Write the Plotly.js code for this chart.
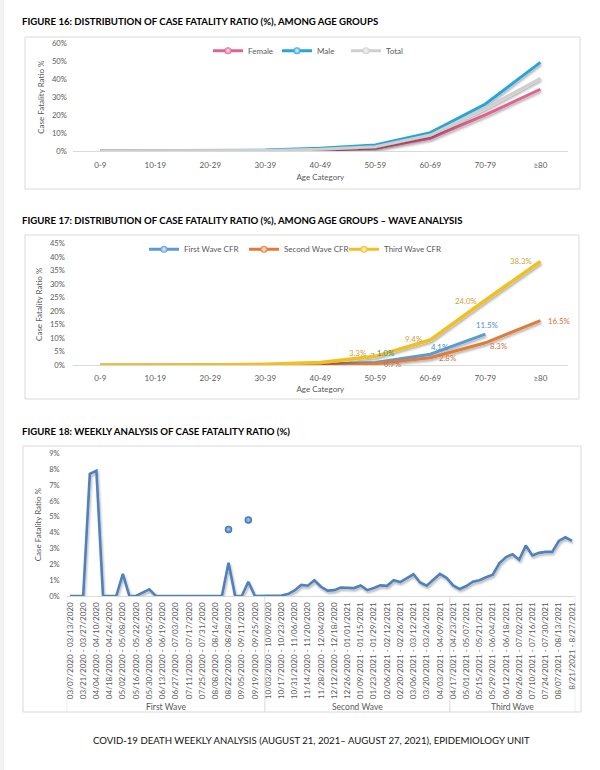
<!DOCTYPE html>
<html><head><meta charset="utf-8">
<script src="https://cdn.plot.ly/plotly-3.0.1.min.js"></script>
<style>
html,body{margin:0;padding:0;background:#fff;}
#chart{width:600px;height:770px;}
.scatterlayer .js-line{filter:url(#sh);}
</style></head><body>
<svg width="0" height="0" style="position:absolute"><defs>
<filter id="sh" filterUnits="userSpaceOnUse" x="-1000" y="-1000" width="5000" height="5000">
<feGaussianBlur in="SourceAlpha" stdDeviation="1.2"/>
<feOffset dx="1" dy="2"/>
<feComponentTransfer><feFuncA type="linear" slope="0.3"/></feComponentTransfer>
<feMerge><feMergeNode/><feMergeNode in="SourceGraphic"/></feMerge>
</filter></defs></svg>
<div id="chart"></div>
<script>
// ---------- DATA ----------
var ageGroups = ['0-9','10-19','20-29','30-39','40-49','50-59','60-69','70-79','≥80'];
var femaleCFR = [0.1, 0.05, 0.1, 0.2, 0.5, 1.6, 7.1, 20.1, 34.4];
var maleCFR   = [0.1, 0.1, 0.2, 0.5, 1.5, 3.3, 10.2, 26.2, 49.4];
var totalCFR  = [0.1, 0.1, 0.1, 0.3, 1.0, 2.4, 8.9, 23.8, 40.5];

var firstWaveCFR  = [0, 0, 0, 0.1, 0.3, 1.0, 4.1, 11.5, null];
var secondWaveCFR = [0, 0, 0, 0.1, 0.2, 0.7, 2.8, 8.3, 16.5];
var thirdWaveCFR  = [0, 0, 0.1, 0.4, 1.0, 3.3, 9.4, 24.0, 38.3];

var weekLabels = [
'03/07/2020 - 03/13/2020','03/14/2020 - 03/20/2020','03/21/2020 - 03/27/2020','03/28/2020 - 04/03/2020',
'04/04/2020 - 04/10/2020','04/11/2020 - 04/17/2020','04/18/2020 - 04/24/2020','04/25/2020 - 05/01/2020',
'05/02/2020 - 05/08/2020','05/09/2020 - 05/15/2020','05/16/2020 - 05/22/2020','05/23/2020 - 05/29/2020',
'05/30/2020 - 06/05/2020','06/06/2020 - 06/12/2020','06/13/2020 - 06/19/2020','06/20/2020 - 06/26/2020',
'06/27/2020 - 07/03/2020','07/04/2020 - 07/10/2020','07/11/2020 - 07/17/2020','07/18/2020 - 07/24/2020',
'07/25/2020 - 07/31/2020','08/01/2020 - 08/07/2020','08/08/2020 - 08/14/2020','08/15/2020 - 08/21/2020',
'08/22/2020 - 08/28/2020','08/29/2020 - 09/04/2020','09/05/2020 - 09/11/2020','09/12/2020 - 09/18/2020',
'09/19/2020 - 09/25/2020','09/26/2020 - 10/02/2020','10/03/2020 - 10/09/2020','10/10/2020 - 10/16/2020',
'10/17/2020 - 10/23/2020','10/24/2020 - 10/30/2020','10/31/2020 - 11/06/2020','11/07/2020 - 11/13/2020',
'11/14/2020 - 11/20/2020','11/21/2020 - 11/27/2020','11/28/2020 - 12/04/2020','12/05/2020 - 12/11/2020',
'12/12/2020 - 12/18/2020','12/19/2020 - 12/25/2020','12/26/2020 - 01/01/2021','01/02/2021 - 01/08/2021',
'01/09/2021 - 01/15/2021','01/16/2021 - 01/22/2021','01/23/2021 - 01/29/2021','01/30/2021 - 02/05/2021',
'02/06/2021 - 02/12/2021','02/13/2021 - 02/19/2021','02/20/2021 - 02/26/2021','02/27/2021 - 03/05/2021',
'03/06/2021 - 03/12/2021','03/13/2021 - 03/19/2021','03/20/2021 - 03/26/2021','03/27/2021 - 04/02/2021',
'04/03/2021 - 04/09/2021','04/10/2021 - 04/16/2021','04/17/2021 - 04/23/2021','04/24/2021 - 04/30/2021',
'05/01/2021 - 05/07/2021','05/08/2021 - 05/14/2021','05/15/2021 - 05/21/2021','05/22/2021 - 05/28/2021',
'05/29/2021 - 06/04/2021','06/05/2021 - 06/11/2021','06/12/2021 - 06/18/2021','06/19/2021 - 06/25/2021',
'06/26/2021 - 07/02/2021','07/03/2021 - 07/09/2021','07/10/2021 - 07/16/2021','07/17/2021 - 07/23/2021',
'07/24/2021 - 07/30/2021','07/31/2021 - 08/06/2021','08/07/2021 - 08/13/2021','08/14/2021 - 08/20/2021',
'8/21/2021 - 8/27/2021'];
var weeklyCFR = [
0, 0, 0, 7.7, 7.9, 0, 0, 0, 1.4, 0, 0, 0.2, 0.42, 0, 0, 0, 0, 0, 0, 0,
0, 0, 0, 0, 2.1, 0, 0, 0.9, 0, 0, 0, 0, 0.03, 0.12, 0.35, 0.7, 0.65, 0.99, 0.58, 0.34,
0.37, 0.54, 0.52, 0.5, 0.66, 0.37, 0.5, 0.67, 0.64, 0.99, 0.88, 1.15, 1.37, 0.85, 0.65, 1.03,
1.39, 1.15, 0.67, 0.44, 0.63, 0.9, 1.0, 1.18, 1.35, 2.06, 2.46, 2.63, 2.29, 3.18, 2.56, 2.72,
2.78, 2.78, 3.47, 3.7, 3.47];
var tickWeeks = [
'03/07/2020 - 03/13/2020','03/21/2020 - 03/27/2020','04/04/2020 - 04/10/2020','04/18/2020 - 04/24/2020',
'05/02/2020 - 05/08/2020','05/16/2020 - 05/22/2020','05/30/2020 - 06/05/2020','06/13/2020 - 06/19/2020',
'06/27/2020 - 07/03/2020','07/11/2020 - 07/17/2020','07/25/2020 - 07/31/2020','08/08/2020 - 08/14/2020',
'08/22/2020 - 08/28/2020','09/05/2020 - 09/11/2020','09/19/2020 - 09/25/2020','10/03/2020 - 10/09/2020',
'10/17/2020 - 10/23/2020','10/31/2020 - 11/06/2020','11/14/2020 - 11/20/2020','11/28/2020 - 12/04/2020',
'12/12/2020 - 12/18/2020','12/26/2020 - 01/01/2021','01/09/2021 - 01/15/2021','01/23/2021 - 01/29/2021',
'02/06/2021 - 02/12/2021','02/20/2021 - 02/26/2021','03/06/2021 - 03/12/2021','03/20/2021 - 03/26/2021',
'04/03/2021 - 04/09/2021','04/17/2021 - 04/23/2021','05/01/2021 - 05/07/2021','05/15/2021 - 05/21/2021',
'05/29/2021 - 06/04/2021','06/12/2021 - 06/18/2021','06/26/2021 - 07/02/2021','07/10/2021 - 07/16/2021',
'07/24/2021 - 07/30/2021','08/07/2021 - 08/13/2021','8/21/2021 - 8/27/2021'];
var isolatedWeeks = ['08/22/2020 - 08/28/2020','09/12/2020 - 09/18/2020'];
var isolatedCFR = [4.2, 4.8];
var waveNames = ['First Wave','Second Wave','Third Wave'];
var waveStartWeeks = ['03/07/2020 - 03/13/2020','10/03/2020 - 10/09/2020','04/17/2021 - 04/23/2021'];

var fig16Title = 'FIGURE 16: DISTRIBUTION OF CASE FATALITY RATIO (%), AMONG AGE GROUPS';
var fig17Title = 'FIGURE 17: DISTRIBUTION OF CASE FATALITY RATIO (%), AMONG AGE GROUPS – WAVE ANALYSIS';
var fig18Title = 'FIGURE 18: WEEKLY ANALYSIS OF CASE FATALITY RATIO (%)';
var footerText = 'COVID-19 DEATH WEEKLY ANALYSIS (AUGUST 21, 2021– AUGUST 27, 2021), EPIDEMIOLOGY UNIT';

// ---------- STYLE ----------
var FONT = 'Lato, "Open Sans", sans-serif';
var GREY = '#595959';
var W = 600, H = 770;
function px(x){ return x / W; }
function py(y){ return 1 - y / H; }

var C = {female:'#e2628f', male:'#27a5d9', total:'#cfcfcf',
         first:'#5b9bd5', second:'#e07b39', third:'#f2bf24', weekly:'#4f81bd'};

var traces = [];
function lineTrace(x, y, color, width, xa, ya){
  return {type:'scatter', mode:'lines', x:x, y:y, xaxis:xa, yaxis:ya, showlegend:false,
          line:{color:color, width:width, shape:'linear'}, hoverinfo:'skip', connectgaps:false};
}
function legendTrace(name, color, legend){
  return {type:'scatter', mode:'lines+markers', x:[null], y:[null], name:name, legend:legend,
          line:{color:color, width:3},
          marker:{symbol:'circle', size:7, color:color, line:{color:color, width:0},
                  gradient:{type:'radial', color:'rgba(255,255,255,0.85)'}},
          hoverinfo:'skip'};
}
// Figure 16
traces.push(lineTrace(ageGroups, femaleCFR, C.female, 3, 'x', 'y'));
traces.push(lineTrace(ageGroups, maleCFR, C.male, 3, 'x', 'y'));
traces.push(lineTrace(ageGroups, totalCFR, C.total, 3, 'x', 'y'));
traces.push(legendTrace('Female', C.female, 'legend'));
traces.push(legendTrace('Male', C.male, 'legend'));
traces.push(legendTrace('Total', C.total, 'legend'));
// Figure 17
traces.push(lineTrace(ageGroups, firstWaveCFR, C.first, 3, 'x2', 'y2'));
traces.push(lineTrace(ageGroups, secondWaveCFR, C.second, 3, 'x2', 'y2'));
traces.push(lineTrace(ageGroups, thirdWaveCFR, C.third, 3.5, 'x2', 'y2'));
traces.push(legendTrace('First Wave CFR', C.first, 'legend2'));
traces.push(legendTrace('Second Wave CFR', C.second, 'legend2'));
traces.push(legendTrace('Third Wave CFR', C.third, 'legend2'));
// Figure 18
traces.push(lineTrace(weekLabels, weeklyCFR, C.weekly, 2.6, 'x3', 'y3'));
traces.push({type:'scatter', mode:'markers', x:isolatedWeeks, y:isolatedCFR, xaxis:'x3', yaxis:'y3',
  showlegend:false, hoverinfo:'skip',
  marker:{size:7.5, color:'#2f6db3', line:{width:0}, gradient:{type:'radial', color:'#a9d0f3'}}});

// ---------- ANNOTATIONS ----------
var ann = [];
function txt(text, x, y, opts){
  var a = {text:text, x:px(x), y:py(y), xref:'paper', yref:'paper', showarrow:false,
           xanchor:'left', yanchor:'middle', font:{family:FONT, size:9.6, color:'#000'}};
  for (var k in opts) a[k] = opts[k];
  return a;
}
ann.push(txt('<b>'+fig16Title+'</b>', 20, 21.7, {}));
ann.push(txt('<b>'+fig17Title+'</b>', 20, 220.7, {}));
ann.push(txt('<b>'+fig18Title+'</b>', 20, 431, {}));
ann.push(txt(footerText, 311, 740, {xanchor:'center', font:{family:FONT, size:9.6, color:'#111'}}));

// Figure 17 data labels (offsets in px relative to the point)
var labelSpec = [
  {data:firstWaveCFR,  color:'#4a8fcb', pos:{5:[10,9.3,'#3d8c78'], 6:[9.3,7.5], 7:[1.7,8.8]}},
  {data:secondWaveCFR, color:'#d0733a', pos:{5:[16.7,-0.6], 6:[16.7,-0.6], 7:[13,-3], 8:[18.3,0]}},
  {data:thirdWaveCFR,  color:'#c9a13b', pos:{5:[-17.7,3.7], 6:[-16.7,0.8], 7:[-19.3,-0.5], 8:[-19.3,0.5]}}
];
labelSpec.forEach(function(s){
  Object.keys(s.pos).forEach(function(k){
    var i = +k, p = s.pos[k];
    ann.push({x:ageGroups[i], y:s.data[i], xref:'x2', yref:'y2', showarrow:false,
      text:s.data[i].toFixed(1)+'%', xshift:p[0], yshift:p[1], xanchor:'center', yanchor:'middle',
      font:{family:FONT, size:7.8, color:p[2] || s.color}});
  });
});
ann.push({x:ageGroups[5], y:thirdWaveCFR[5], xref:'x2', yref:'y2', showarrow:false, text:'¬',
  xshift:-3.3, yshift:3.7, font:{family:FONT, size:8, color:'#7f7f7f'}});

// Figure 18 wave group labels + separators
var waveIdx = waveStartWeeks.map(function(w){ return weekLabels.indexOf(w); });
var shapes = [];
waveIdx.forEach(function(s, j){
  var e = (j < waveIdx.length - 1 ? waveIdx[j+1] : weekLabels.length) - 1;
  ann.push({x:(s+e)/2, y:py(706.7), xref:'x3', yref:'paper', showarrow:false, text:waveNames[j],
    xanchor:'center', yanchor:'middle', font:{family:FONT, size:8.5, color:GREY}});
  shapes.push({type:'line', xref:'x3', yref:'paper', x0:s-0.5, x1:s-0.5, y0:py(596), y1:py(712),
    line:{color:'#d9d9d9', width:1}});
});
shapes.push({type:'line', xref:'x3', yref:'paper', x0:weekLabels.length-0.5, x1:weekLabels.length-0.5,
  y0:py(596), y1:py(712), line:{color:'#d9d9d9', width:1}});

// chart frames
[[25,37,580,189],[25,235,579,399],[23,446,581,712]].forEach(function(b){
  shapes.push({type:'rect', xref:'paper', yref:'paper', x0:px(b[0]), x1:px(b[2]), y0:py(b[3]), y1:py(b[1]),
    line:{color:'#d9d9d9', width:1}, fillcolor:'rgba(0,0,0,0)', layer:'below'});
});
shapes.push({type:'rect', xref:'paper', yref:'paper', x0:0, x1:px(4), y0:0, y1:1,
  line:{width:0}, fillcolor:'#f1f1f1', layer:'below'});

// ---------- LAYOUT ----------
function catX(domain, anchor, extra){
  var a = {domain:domain, anchor:anchor, type:'category', showgrid:false, zeroline:false,
    showline:true, linecolor:'#d9d9d9', linewidth:1, ticks:'', fixedrange:true,
    tickfont:{family:FONT, size:8, color:GREY}};
  for (var k in extra) a[k] = extra[k];
  return a;
}
function valY(domain, anchor, range, dtick, extra){
  var a = {domain:domain, anchor:anchor, range:range, dtick:dtick, tick0:0, ticksuffix:'%',
    showgrid:false, zeroline:false, showline:false, ticks:'', fixedrange:true,
    tickfont:{family:FONT, size:7.6, color:GREY}};
  for (var k in extra) a[k] = extra[k];
  return a;
}
var ageDomain = [px(72.8), px(567.9)];
var legendBase = {orientation:'h', xanchor:'left', yanchor:'middle', bgcolor:'rgba(0,0,0,0)',
  font:{family:FONT, size:8, color:GREY}, itemwidth:30, tracegroupgap:0, entrywidthmode:'pixels'};
function legendAt(x, y, ew){
  var l = {}; for (var k in legendBase) l[k] = legendBase[k];
  l.x = px(x); l.y = py(y); l.entrywidth = ew; return l;
}
var layout = {
  width:W, height:H, margin:{l:0, r:0, t:0, b:0},
  paper_bgcolor:'#ffffff', plot_bgcolor:'rgba(0,0,0,0)',
  font:{family:FONT, size:8, color:GREY},
  xaxis: catX(ageDomain, 'y', {range:[-0.5, 8.5], ticklabelstandoff:6,
    title:{text:'Age Category', font:{family:FONT, size:8, color:GREY}, standoff:5}}),
  yaxis: valY([py(151), py(43.3)], 'x', [0, 60], 10, {ticklabelstandoff:5,
    title:{text:'Case Fatality Ratio %', font:{family:FONT, size:8, color:GREY}, standoff:6}}),
  xaxis2: catX(ageDomain, 'y2', {range:[-0.5, 8.5], ticklabelstandoff:5,
    title:{text:'Age Category', font:{family:FONT, size:8, color:GREY}, standoff:4}}),
  yaxis2: valY([py(365.3), py(243.3)], 'x2', [0, 45], 5, {ticklabelstandoff:7,
    title:{text:'Case Fatality Ratio %', font:{family:FONT, size:8, color:GREY}, standoff:6}}),
  xaxis3: catX([px(66.7), px(575.3)], 'y3', {range:[-0.5, weekLabels.length-0.5],
    categoryorder:'array', categoryarray:weekLabels, tickmode:'array', tickvals:tickWeeks, ticktext:tickWeeks,
    tickangle:-90, ticklabelstandoff:2, tickfont:{family:FONT, size:8.1, color:GREY}}),
  yaxis3: valY([py(596), py(453.3)], 'x3', [0, 9], 1, {ticklabelstandoff:6,
    title:{text:'Case Fatality Ratio %', font:{family:FONT, size:8, color:GREY}, standoff:6}}),
  legend: legendAt(208, 50.7, 24),
  legend2: legendAt(144, 249.3, 55),
  annotations:ann, shapes:shapes
};
Plotly.newPlot('chart', traces, layout, {staticPlot:true, displayModeBar:false});
</script>
</body></html>
